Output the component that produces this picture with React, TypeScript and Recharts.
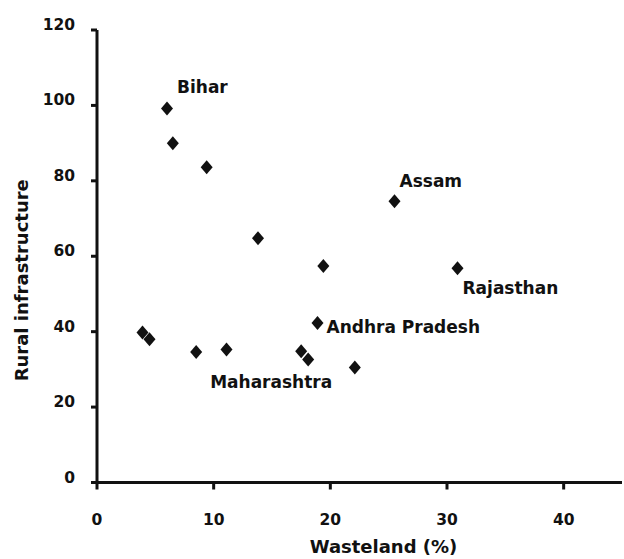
import React from 'react';
import { ScatterChart, Scatter, XAxis, YAxis, Label } from 'recharts';

// Values
const wasteland = [6.0, 6.5, 9.4, 13.8, 19.4, 25.5, 30.9, 18.9, 3.9, 4.5, 8.5, 11.1, 17.5, 18.1, 22.1];
const infrastructure = [99.2, 90, 83.6, 64.8, 57.4, 74.6, 56.8, 42.3, 39.8, 38, 34.6, 35.3, 34.8, 32.6, 30.5];
const states = ['Bihar', '', '', '', '', 'Assam', 'Rajasthan', 'Andhra Pradesh', '', '', '', '', '', 'Maharashtra', ''];

const xTicks = [0, 10, 20, 30, 40];
const yTicks = [0, 20, 40, 60, 80, 100, 120];

const data = wasteland.map((w, i) => ({ x: w, y: infrastructure[i], state: states[i] }));

const FONT = '"DejaVu Sans", "Liberation Sans", Arial, sans-serif';
const INK = '#111';

// where each state name sits relative to its marker
const labelOffset: Record<string, [number, number]> = {
  Bihar: [10, -15],
  Assam: [5, -14],
  Rajasthan: [5, 26],
  'Andhra Pradesh': [9, 10],
  Maharashtra: [-98, 28],
};

const Diamond = (props: any) => {
  const { cx, cy, payload } = props;
  const off = payload && payload.state ? labelOffset[payload.state] : null;
  return (
    <g>
      <polygon
        points={`${cx},${cy - 7} ${cx + 6},${cy} ${cx},${cy + 7} ${cx - 6},${cy}`}
        fill={INK}
      />
      {off && (
        <text x={cx + off[0]} y={cy + off[1]} fontFamily={FONT} fontWeight="bold" fontSize={17} fill={INK}>
          {payload.state}
        </text>
      )}
    </g>
  );
};

const XTick = ({ x, y, payload }: any) => (
  <text x={x} y={y + 33} textAnchor="middle" fontFamily={FONT} fontWeight="bold" fontSize={15.5} fill={INK}>
    {payload.value}
  </text>
);

const YTick = ({ x, y, payload }: any) => (
  <text x={x} y={y} textAnchor="end" fontFamily={FONT} fontWeight="bold" fontSize={15.5} fill={INK}>
    {payload.value}
  </text>
);

export default function App() {
  return (
    <div style={{ position: 'absolute', left: 0, top: 0, background: '#fff' }}>
      <ScatterChart width={624} height={559} margin={{ top: 30, right: 2, bottom: 0, left: 0 }}>
        <XAxis
          type="number"
          dataKey="x"
          domain={[0, 45]}
          ticks={xTicks}
          allowDataOverflow
          height={76.5}
          stroke={INK}
          strokeWidth={3}
          tickSize={7}
          tickLine={{ stroke: INK, strokeWidth: 3 }}
          tick={<XTick />}
        >
          <Label
            content={({ viewBox }: any) => (
              <text
                x={viewBox.x + viewBox.width / 2 + 24}
                y={553}
                textAnchor="middle"
                fontFamily={FONT}
                fontWeight="bold"
                fontSize={18}
                fill={INK}
              >
                Wasteland (%)
              </text>
            )}
          />
        </XAxis>
        <YAxis
          type="number"
          dataKey="y"
          domain={[0, 120]}
          ticks={yTicks}
          width={97}
          stroke={INK}
          strokeWidth={3}
          tickSize={6}
          tickMargin={16}
          tickLine={{ stroke: INK, strokeWidth: 3 }}
          tick={<YTick />}
        >
          <Label
            content={({ viewBox }: any) => {
              const cx = 28;
              const cy = viewBox.y + viewBox.height / 2 + 24;
              return (
                <text
                  x={cx}
                  y={cy}
                  transform={`rotate(-90 ${cx} ${cy})`}
                  textAnchor="middle"
                  fontFamily={FONT}
                  fontWeight="bold"
                  fontSize={18}
                  fill={INK}
                >
                  Rural infrastructure
                </text>
              );
            }}
          />
        </YAxis>
        <Scatter data={data} shape={<Diamond />} isAnimationActive={false} />
      </ScatterChart>
    </div>
  );
}
